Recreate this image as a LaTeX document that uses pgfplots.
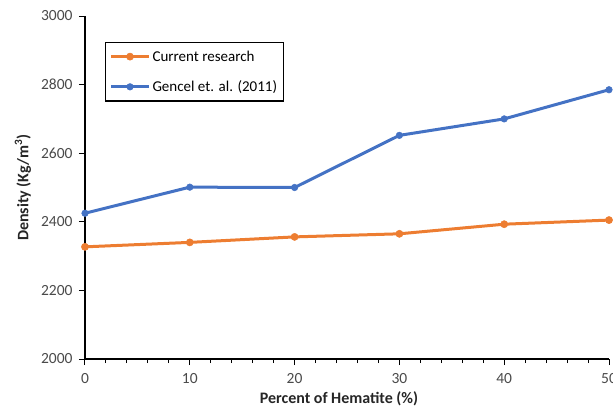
\documentclass[border=0pt]{standalone}
\usepackage{pgfplots}
\pgfplotsset{compat=1.18}
\usepackage{fontspec}
\setmainfont{Carlito}
\definecolor{xlorange}{HTML}{ED7D31}
\definecolor{xlblue}{HTML}{4472C4}
\definecolor{ticktext}{HTML}{4A4A4A}
\begin{document}
\begin{tikzpicture}
\path[use as bounding box] (-85pt,-57pt) rectangle (528pt,359pt);
\begin{axis}[
  at={(0pt,0pt)}, anchor=south west,
  scale only axis, width=524pt, height=343pt,
  xmin=0, xmax=50, ymin=2000, ymax=3000,
  axis x line*=bottom, axis y line*=left,
  axis line style={black, line width=1.3pt, -},
  xtick={0,10,20,30,40,50},
  minor xtick={2,4,6,8,12,14,16,18,22,24,26,28,32,34,36,38,42,44,46,48},
  ytick={2000,2200,2400,2600,2800,3000},
  tick align=outside,
  major tick length=6pt, minor tick length=4pt,
  every tick/.style={black, line width=1pt},
  tick label style={font=\fontsize{15.5}{17}\selectfont, text=ticktext},
  yticklabel style={xshift=-3pt},
  xticklabel style={yshift=-5pt},
  /pgf/number format/assume math mode=true,
  /pgf/number format/1000 sep={},
  xlabel={\textbf{Percent of Hematite (\%)}},
  ylabel={\textbf{Density (Kg/m\textsuperscript{3})}},
  label style={font=\fontsize{16}{18}\selectfont, text=black!85},
  xlabel style={yshift=-1pt, xshift=-8pt},
  ylabel style={yshift=3pt},
  legend style={
    at={(axis description cs:0.038,0.924)}, anchor=north west,
    draw=black, line width=1.2pt,
    font=\fontsize{15}{17}\selectfont,
    row sep=14pt, inner xsep=4pt, inner ysep=6pt,
    cells={anchor=west}
  },
  legend image code/.code={
    \draw[#1, line width=3pt] (0cm,0cm) -- (38pt,0cm);
    \draw[#1, mark repeat=1] plot coordinates {(19pt,0cm)};
  },
]
\addplot[color=xlorange, line width=3pt, mark=*, mark size=3.6pt, mark options={solid, line width=0.5pt}]
  coordinates {(0,2327) (10,2340) (20,2356) (30,2365) (40,2393) (50,2405)};
\addlegendentry{Current research}
\addplot[color=xlblue, line width=3pt, mark=*, mark size=3.3pt, mark options={solid, line width=0.5pt}]
  coordinates {(0,2425) (10,2501) (20,2500) (30,2652) (40,2700) (50,2785)};
\addlegendentry{Gencel et. al. (2011)}
\end{axis}
\end{tikzpicture}
\end{document}
